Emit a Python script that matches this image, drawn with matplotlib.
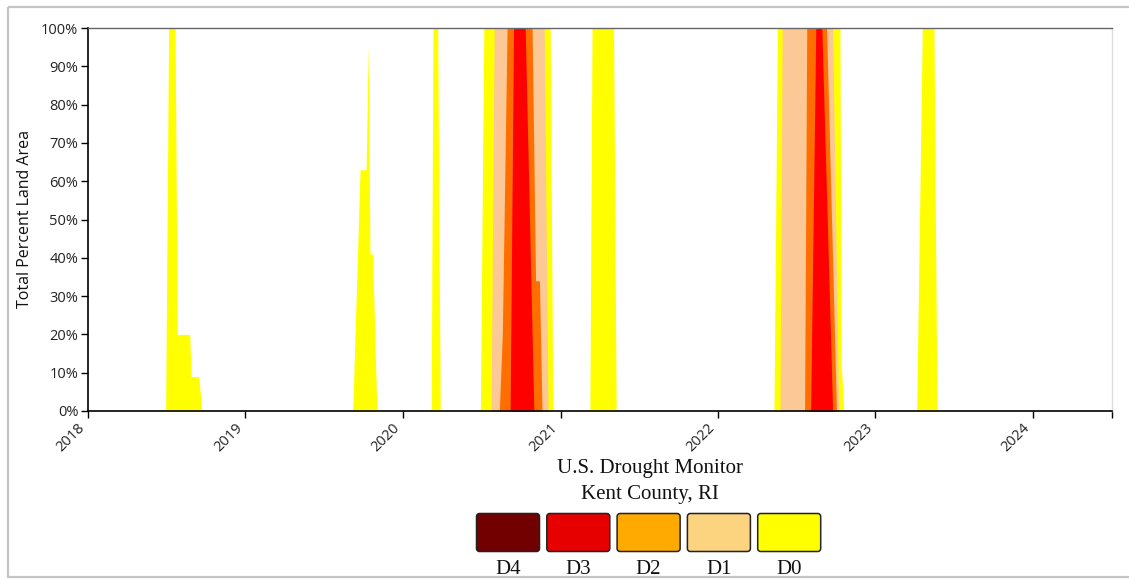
import matplotlib
matplotlib.use("Agg")
import matplotlib.pyplot as plt
from matplotlib.patches import FancyBboxPatch, Rectangle
from matplotlib.ticker import FuncFormatter
import pandas as pd

# cumulative percent of area per category, linear between points
d0_dates = ["2018-01-02", "2018-06-30", "2018-07-07", "2018-07-22", "2018-07-27", "2018-08-25",
            "2018-08-28", "2018-09-15", "2018-09-22",
            "2019-09-07", "2019-09-24", "2019-10-08", "2019-10-13", "2019-10-17", "2019-10-23",
            "2019-11-02",
            "2020-03-07", "2020-03-11", "2020-03-22", "2020-03-28",
            "2020-06-29", "2020-07-07", "2020-12-08", "2020-12-14",
            "2021-03-10", "2021-03-15", "2021-05-04", "2021-05-10",
            "2022-05-11", "2022-05-19", "2022-10-11", "2022-10-14", "2022-10-20",
            "2023-04-07", "2023-04-20", "2023-05-17", "2023-05-24", "2024-06-25"]
d0_vals = [0, 0, 100, 100, 20, 20, 9, 9, 0,
           0, 63, 63, 96, 41, 41, 0,
           0, 100, 100, 0,
           0, 100, 100, 0,
           0, 100, 100, 0,
           0, 100, 100, 12, 0,
           0, 100, 100, 0, 0]

d1_dates = ["2020-07-24", "2020-07-31", "2020-11-24", "2020-12-03",
            "2022-05-25", "2022-05-30", "2022-09-24", "2022-10-08"]
d1_vals = [0, 100, 100, 0, 0, 100, 100, 0]

d2_dates = ["2020-08-12", "2020-08-19", "2020-08-30", "2020-10-27", "2020-11-04", "2020-11-13",
            "2020-11-19",
            "2022-07-21", "2022-07-26", "2022-09-10", "2022-10-03"]
d2_vals = [0, 20, 100, 100, 34, 34, 0, 0, 100, 100, 0]

d3_dates = ["2020-09-06", "2020-09-14", "2020-10-11", "2020-10-31",
            "2022-08-04", "2022-08-16", "2022-08-30", "2022-09-24"]
d3_vals = [0, 100, 100, 0, 0, 100, 100, 0]

d4_dates = []
d4_vals = []

categories = ["D4", "D3", "D2", "D1", "D0"]
legend_colors = ["#730000", "#e60000", "#ffaa00", "#fcd37f", "#ffff00"]
area_colors = {"D0": "#ffff00", "D1": "#fbc896", "D2": "#ff6e00", "D3": "#ff0000", "D4": "#730000"}

series = [("D0", d0_dates, d0_vals), ("D1", d1_dates, d1_vals), ("D2", d2_dates, d2_vals),
          ("D3", d3_dates, d3_vals), ("D4", d4_dates, d4_vals)]

W, H = 1129, 580
fig = plt.figure(figsize=(W / 100, H / 100), dpi=100)

# overlay in pixel coords for frame, title, legend
ov = fig.add_axes([0, 0, 1, 1], zorder=0)
ov.set_xlim(0, W)
ov.set_ylim(H, 0)
ov.axis("off")

ax = fig.add_axes([88 / W, 1 - 411 / H, (1112 - 88) / W, (411 - 28) / H], zorder=1)
ax.set_facecolor("white")

for name, ds, vs in series:
    if not ds:
        continue
    x = pd.to_datetime(ds)
    ax.fill_between(x, 0, vs, color=area_colors[name], lw=0, antialiased=True)

start = pd.Timestamp("2018-01-01")
end = pd.Timestamp("2024-07-03")
ax.set_xlim(start, end)
ax.set_ylim(0, 100)

years = [pd.Timestamp(f"{y}-01-01") for y in range(2018, 2025)]
ax.set_xticks(years + [end])
ax.set_xticklabels([str(y.year) for y in years] + [""], rotation=45, ha="right",
                   family="Open Sans", fontsize=10.5, color="#222222")
ax.set_yticks(range(0, 101, 10))
ax.yaxis.set_major_formatter(FuncFormatter(lambda v, p: f"{int(v)}%"))
for lab in ax.get_yticklabels():
    lab.set_family("Open Sans")
    lab.set_fontsize(10.5)
    lab.set_color("#222222")
ax.tick_params(axis="both", length=5, width=1, color="black", pad=2)
ax.set_ylabel("Total Percent Land Area", family="Open Sans", fontsize=11.5, color="#111111",
              labelpad=6)

for s in ("left", "bottom"):
    ax.spines[s].set_color("black")
    ax.spines[s].set_linewidth(1.2)
ax.spines["top"].set_color("#666666")
ax.spines["top"].set_linewidth(1)
ax.spines["right"].set_color("#dddddd")
ax.spines["right"].set_linewidth(1)

# title
ov.text(650, 468, "U.S. Drought Monitor", ha="center", va="center", family="Liberation Serif",
        fontsize=15, color="#111111")
ov.text(650, 494, "Kent County, RI", ha="center", va="center", family="Liberation Serif",
        fontsize=15, color="#111111")

# legend
for i, (cat, col) in enumerate(zip(categories, legend_colors)):
    x0 = 476 + i * 70.3
    box = FancyBboxPatch((x0 + 2, 515), 60, 35, boxstyle="round,pad=1.5,rounding_size=3",
                         facecolor=col, edgecolor="#222222", lw=1.1)
    ov.add_patch(box)
    ov.text(x0 + 32, 574, cat, ha="center", va="baseline", family="Liberation Serif",
            fontsize=15, color="#111111")

# outer frame
ov.add_patch(Rectangle((8, 7), W + 20, 570, fill=False, edgecolor="#c4c4c4", lw=1.6, zorder=5))

fig.savefig("out.png", dpi=100)
